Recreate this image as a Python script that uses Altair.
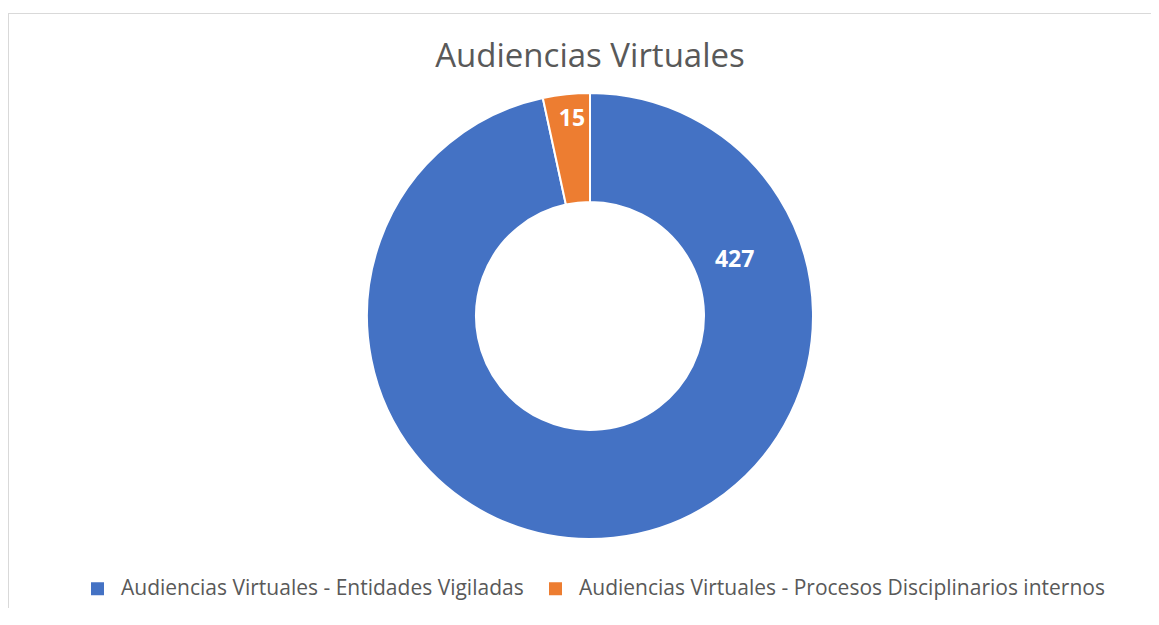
import altair as alt
import pandas as pd

categories = [
    "Audiencias Virtuales - Entidades Vigiladas",
    "Audiencias Virtuales - Procesos Disciplinarios internos",
]
values = [427, 15]
order = [0, 1]
colors = ["#4472C4", "#ED7D31"]
title_text = "Audiencias Virtuales"

df = pd.DataFrame({"categoria": categories, "valor": values, "orden": order})

W, H = 1143, 595
CX, CY = 582, 303
FONT = "Open Sans"
GREY = "#595959"

base = alt.Chart(df)

arc = base.mark_arc(innerRadius=114, outerRadius=223, stroke="white", strokeWidth=2).encode(
    theta=alt.Theta("valor:Q", stack=True),
    color=alt.Color(
        "categoria:N",
        scale=alt.Scale(domain=categories, range=colors),
        legend=alt.Legend(
            orient="none",
            direction="horizontal",
            legendX=79,
            legendY=565,
            title=None,
            symbolType="square",
            symbolSize=169,
            symbolStrokeWidth=0,
            labelFontSize=21,
            labelFont=FONT,
            labelColor=GREY,
            labelOffset=13,
            columnPadding=21,
            labelLimit=700,
        ),
    ),
    order=alt.Order("orden:Q"),
    x=alt.value(CX),
    y=alt.value(CY),
)

lab_big = base.transform_filter(alt.datum.orden == 0).mark_text(
    font=FONT, fontSize=23, fontWeight="bold", color="white", align="center", baseline="middle"
).encode(
    text="valor:Q",
    x=alt.value(CX),
    y=alt.value(CY),
    theta=alt.value(1.204),
    radius=alt.value(155),
)

lab_small = base.transform_filter(alt.datum.orden == 1).mark_text(
    font=FONT, fontSize=23, fontWeight="bold", color="white", align="center", baseline="middle"
).encode(
    text="valor:Q",
    x=alt.value(CX),
    y=alt.value(CY),
    theta=alt.value(6.192),
    radius=alt.value(198),
)

title = alt.Chart(pd.DataFrame({"t": [title_text]})).mark_text(
    font=FONT, fontSize=33, color=GREY, align="center", baseline="middle"
).encode(text="t:N", x=alt.value(CX), y=alt.value(44))

border_top = alt.Chart(pd.DataFrame({"t": [0]})).mark_rule(color="#d9d9d9", strokeWidth=1).encode(
    x=alt.value(0), x2=alt.value(W + 8), y=alt.value(0.5)
)
border_left = alt.Chart(pd.DataFrame({"t": [0]})).mark_rule(color="#d9d9d9", strokeWidth=1).encode(
    x=alt.value(0.5), y=alt.value(0), y2=alt.value(H)
)

chart = alt.layer(border_top, border_left, arc, lab_big, lab_small, title).properties(
    width=W,
    height=H,
    autosize=alt.AutoSizeParams(type="none"),
    padding={"left": 0, "top": 5, "right": 0, "bottom": 0},
    background="white",
).configure_view(stroke=None)

chart.save("out.html", embed_options={"renderer": "svg", "actions": False})
